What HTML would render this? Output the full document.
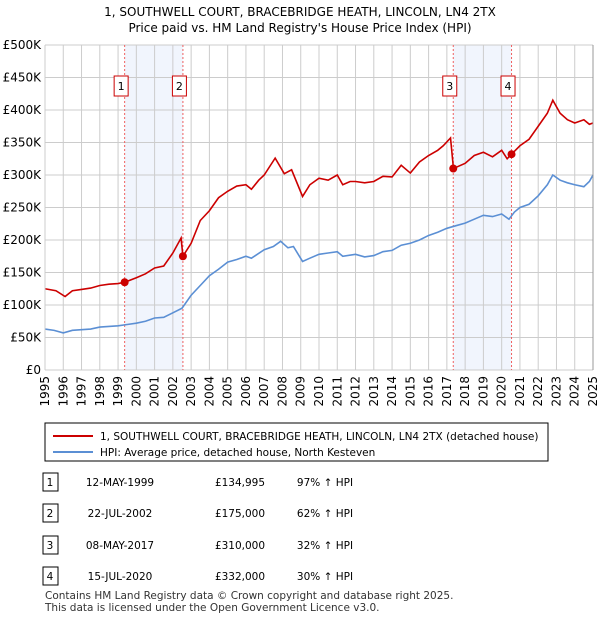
<!DOCTYPE html>
<html><head><meta charset="utf-8"><style>
body{margin:0;background:#fff;font-family:"DejaVu Sans","Liberation Sans",sans-serif;}
svg text{font-family:"DejaVu Sans","Liberation Sans",sans-serif;}
</style></head><body>
<svg id="c" width="600" height="620" xmlns="http://www.w3.org/2000/svg">
<text x="300" y="16" font-size="12" text-anchor="middle">1, SOUTHWELL COURT, BRACEBRIDGE HEATH, LINCOLN, LN4 2TX</text>
<text x="300" y="32" font-size="12" text-anchor="middle">Price paid vs. HM Land Registry's House Price Index (HPI)</text>
<g id="plot"></g>
<rect x="45" y="423" width="503" height="38" fill="#fff" stroke="#000"/>
<line x1="53" y1="436" x2="93" y2="436" stroke="#cc0000" stroke-width="2"/>
<text x="100" y="440" font-size="10.5">1, SOUTHWELL COURT, BRACEBRIDGE HEATH, LINCOLN, LN4 2TX (detached house)</text>
<line x1="53" y1="452" x2="93" y2="452" stroke="#5b8fd4" stroke-width="2"/>
<text x="100" y="456" font-size="10.5">HPI: Average price, detached house, North Kesteven</text>
<g id="tbl"></g>
<text x="45" y="599" font-size="10.5" fill="#333">Contains HM Land Registry data © Crown copyright and database right 2025.</text>
<text x="45" y="611" font-size="10.5" fill="#333">This data is licensed under the Open Government Licence v3.0.</text>
</svg>
<script>
const yTicks=[0,50000,100000,150000,200000,250000,300000,350000,400000,450000,500000];
const yTickLabels=["£0","£50K","£100K","£150K","£200K","£250K","£300K","£350K","£400K","£450K","£500K"];
const xYears=[1995,1996,1997,1998,1999,2000,2001,2002,2003,2004,2005,2006,2007,2008,2009,2010,2011,2012,2013,2014,2015,2016,2017,2018,2019,2020,2021,2022,2023,2024,2025];
const hpiX=[1995,1995.5,1996,1996.5,1997,1997.5,1998,1998.5,1999,1999.5,2000,2000.5,2001,2001.5,2002,2002.5,2003,2003.5,2004,2004.5,2005,2005.5,2006,2006.3,2007,2007.5,2007.9,2008.3,2008.6,2009.1,2009.5,2010,2010.5,2011,2011.3,2012,2012.5,2013,2013.5,2014,2014.5,2015,2015.5,2016,2016.5,2017,2017.5,2018,2018.5,2019,2019.5,2020,2020.4,2020.7,2021,2021.5,2022,2022.5,2022.8,2023.2,2023.6,2024,2024.5,2024.8,2025];
const hpiY=[63000,61000,57000,61000,62000,63000,66000,67000,68000,70000,72000,75000,80000,81000,88000,95000,115000,130000,145000,155000,166000,170000,175000,172000,185000,190000,198000,188000,190000,167000,172000,178000,180000,182000,175000,178000,174000,176000,182000,184000,192000,195000,200000,207000,212000,218000,222000,226000,232000,238000,236000,240000,232000,243000,250000,255000,268000,285000,300000,292000,288000,285000,282000,290000,300000];
const ppX=[1995,1995.6,1996.1,1996.5,1997,1997.5,1998,1998.5,1999,1999.36,2000,2000.5,2001,2001.5,2002,2002.45,2002.55,2003,2003.5,2004,2004.5,2005,2005.5,2006,2006.3,2006.7,2007,2007.6,2008.1,2008.5,2009.1,2009.5,2010,2010.5,2011,2011.3,2011.7,2012,2012.5,2013,2013.5,2014,2014.5,2015,2015.5,2016,2016.5,2016.8,2017.2,2017.36,2017.6,2018,2018.5,2019,2019.5,2020,2020.3,2020.54,2021,2021.5,2022,2022.5,2022.8,2023.2,2023.6,2024,2024.5,2024.8,2025];
const ppY=[125000,122000,113000,122000,124000,126000,130000,132000,133000,134995,142000,148000,157000,160000,180000,203000,175000,195000,230000,245000,265000,275000,283000,285000,278000,292000,300000,326000,302000,308000,267000,285000,295000,292000,300000,285000,290000,290000,288000,290000,298000,297000,315000,303000,320000,330000,338000,345000,357000,310000,313000,318000,330000,335000,328000,338000,325000,332000,345000,355000,375000,395000,415000,395000,385000,380000,385000,378000,380000];
const saleX=[1999.36,2002.55,2017.35,2020.54];
const saleY=[134995,175000,310000,332000];
const saleLabels=["1","2","3","4"];
const saleDates=["12-MAY-1999","22-JUL-2002","08-MAY-2017","15-JUL-2020"];
const salePrices=["£134,995","£175,000","£310,000","£332,000"];
const saleHpi=["97% ↑ HPI","62% ↑ HPI","32% ↑ HPI","30% ↑ HPI"];
const X0=45,X1=593,Y0=370,Y1=45;
const xs=v=>X0+(v-1995)/30*(X1-X0);
const ys=v=>Y0-(v/500000)*(Y0-Y1);
const NS="http://www.w3.org/2000/svg";
const g=document.getElementById('plot');
function mk(p,t,a){const e=document.createElementNS(NS,t);for(const k in a)e.setAttribute(k,a[k]);p.appendChild(e);return e;}
for(const [a,b] of [[0,1],[2,3]]){
 const r=mk(g,'rect',{x:xs(saleX[a]),y:Y1,width:xs(saleX[b])-xs(saleX[a]),height:Y0-Y1,fill:'#eef3fd',opacity:0.8});
 
 
}
yTicks.forEach((t,i)=>{
 const l=mk(g,'line',{x1:X0,x2:X1,y1:ys(t),y2:ys(t),stroke:'#ccc'});
 
 
 const tx=mk(g,'text',{x:X0-4,y:ys(t)+4,'font-size':12,'text-anchor':'end'});tx.textContent=yTickLabels[i];
 
 
});
xYears.forEach(y=>{
 const l=mk(g,'line',{x1:xs(y),x2:xs(y),y1:Y1,y2:Y0,stroke:'#ccc'});
 
 
 const tx=mk(g,'text',{x:0,y:0,'font-size':12,'text-anchor':'end',transform:`translate(${xs(y)+4},${Y0+6}) rotate(-90)`});tx.textContent=y;
 
 
});
saleX.forEach((x,i)=>{
 const l=mk(g,'line',{x1:xs(x),x2:xs(x),y1:Y1,y2:Y0,stroke:'#f06060','stroke-dasharray':'2,2'});
 
 
 const r=mk(g,'rect',{x:xs(x)-10.5,y:76,width:14,height:20,fill:'#fff',stroke:'#cc0000'});
 
 
 const t=mk(g,'text',{x:xs(x)-3.5,y:90,'font-size':11,'text-anchor':'middle'});t.textContent=saleLabels[i];
 
 
});
const pl=(X,Y,c,n)=>{const p=mk(g,'polyline',{points:X.map((x,i)=>xs(x)+','+ys(Y[i])).join(' '),fill:'none',stroke:c,'stroke-width':1.6});
 
 };
pl(hpiX,hpiY,'#5b8fd4','hpi-line');
pl(ppX,ppY,'#cc0000','price-paid-line');
saleX.forEach((x,i)=>{
 const c=mk(g,'circle',{cx:xs(x),cy:ys(saleY[i]),r:4,fill:'#cc0000'});
 
 
});
mk(g,'line',{x1:X0,x2:X0,y1:Y1,y2:Y0,stroke:'#ccc'});
mk(g,'line',{x1:X1,x2:X1,y1:Y1,y2:Y0,stroke:'#999'});
const tb=document.getElementById('tbl');
const rowY=[482,513,545,576];
rowY.forEach((y,i)=>{
 const r=mk(tb,'rect',{x:43,y:y-9,width:15,height:18,fill:'#fff',stroke:'#000'});
 
 
 const vals=[[50,saleLabels[i],'middle'],[120,saleDates[i],'middle'],[240,salePrices[i],'middle'],[325,saleHpi[i],'middle']];
 vals.forEach(v=>{const t=mk(tb,'text',{x:v[0],y:y+4,'font-size':10.5,'text-anchor':v[2]});t.textContent=v[1];
  
  });
});
</script>
</body></html>
